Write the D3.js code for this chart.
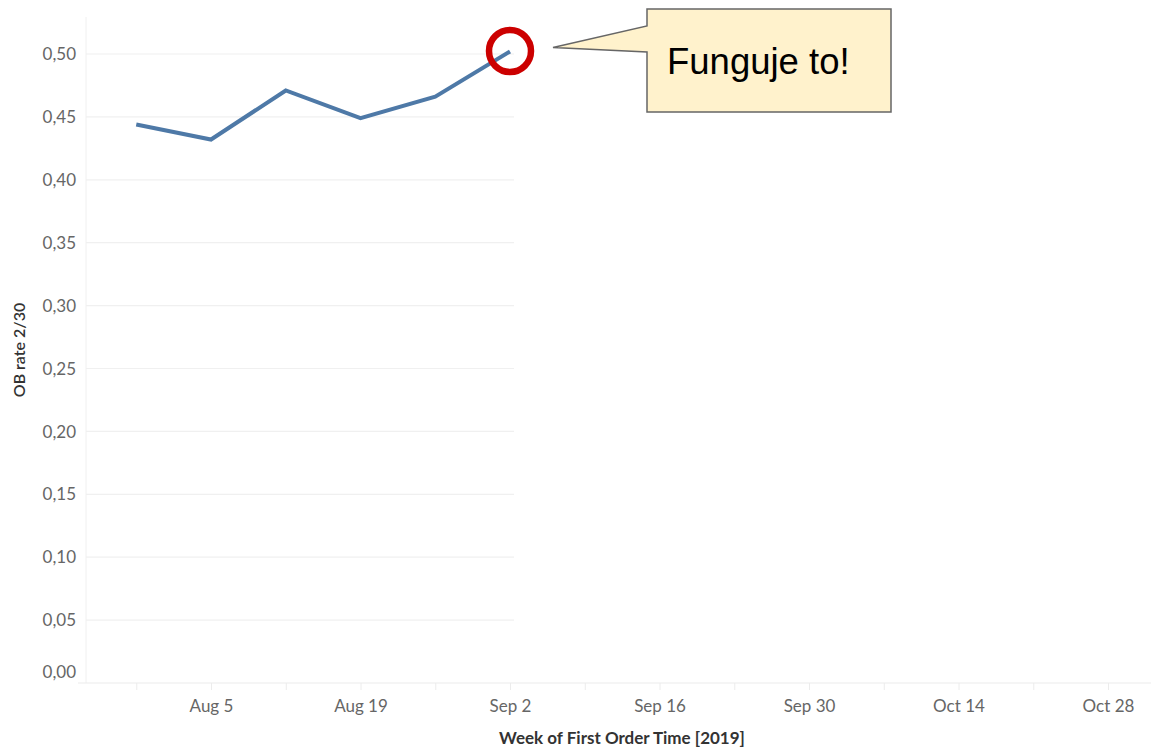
<!DOCTYPE html>
<html>
<head>
<meta charset="utf-8">
<script src="https://cdn.jsdelivr.net/npm/d3@7"></script>
<style>
  html, body { margin: 0; padding: 0; background: #fff; }
  svg { display: block; }
</style>
</head>
<body>
<svg id="chart" width="1151" height="748"></svg>
<script>
// Weekly onboarding rate (orders within 2/30)
const weeks = ["2019-07-29", "2019-08-05", "2019-08-12", "2019-08-19", "2019-08-26", "2019-09-02"];
const obRate = [0.444, 0.432, 0.471, 0.449, 0.466, 0.502];

const yTicks = [0, 0.05, 0.10, 0.15, 0.20, 0.25, 0.30, 0.35, 0.40, 0.45, 0.50];
const xLabelWeeks = ["2019-08-05", "2019-08-19", "2019-09-02", "2019-09-16", "2019-09-30", "2019-10-14", "2019-10-28"];
const xMinorWeeks = ["2019-07-29", "2019-08-05", "2019-08-12", "2019-08-19", "2019-08-26", "2019-09-02",
  "2019-09-09", "2019-09-16", "2019-09-23", "2019-09-30", "2019-10-07", "2019-10-14", "2019-10-21", "2019-10-28"];

const yTitle = "OB rate 2/30";
const xTitle = "Week of First Order Time [2019]";
const calloutText = "Funguje to!";

const parse = d3.utcParse("%Y-%m-%d");
const fmt = d3.utcFormat("%b %-d");
const data = weeks.map((w, i) => ({ date: parse(w), value: obRate[i] }));

const svg = d3.select("#chart");
const font = "Lato, 'Open Sans', sans-serif";

const plot = { left: 86, right: 1151, top: 17, bottom: 683 };

const x = d3.scaleUtc()
  .domain([parse("2019-08-05"), parse("2019-10-28")])
  .range([211, 1108]);
const y = d3.scaleLinear().domain([0, 0.5]).range([683, 54]);

const lastDate = data[data.length - 1].date;
const gridEnd = x(lastDate) + 4;

// horizontal gridlines (only across the weeks with data)
svg.append("g")
  .selectAll("line")
  .data(yTicks.filter(d => d > 0))
  .join("line")
  .attr("x1", plot.left).attr("x2", gridEnd)
  .attr("y1", d => y(d)).attr("y2", d => y(d))
  .attr("stroke", "#f0f0f0").attr("stroke-width", 1.2);

// left border of the pane
svg.append("line")
  .attr("x1", plot.left).attr("x2", plot.left)
  .attr("y1", plot.top).attr("y2", plot.bottom)
  .attr("stroke", "#f0f0f0").attr("stroke-width", 1);

// y tick labels
const fmtY = v => d3.format(".2f")(v).replace(".", ",");
svg.append("g")
  .selectAll("text")
  .data(yTicks)
  .join("text")
  .attr("x", 76)
  .attr("y", d => d === 0 ? y(d) - 11 : y(d))
  .attr("dy", "0.36em")
  .attr("text-anchor", "end")
  .attr("font-family", font).attr("font-size", 17)
  .attr("fill", "#666")
  .text(fmtY);

// x axis: weekly ticks, labels every second week
const xAxis = d3.axisBottom(x)
  .tickValues(xMinorWeeks.map(parse))
  .tickSize(7)
  .tickPadding(10)
  .tickFormat(d => xLabelWeeks.includes(d3.utcFormat("%Y-%m-%d")(d)) ? fmt(d) : "");

const gx = svg.append("g")
  .attr("transform", `translate(0,${plot.bottom})`)
  .call(xAxis);
gx.select(".domain").remove();
gx.selectAll(".tick line").attr("stroke", "#ececec");
gx.selectAll(".tick text")
  .attr("font-family", font).attr("font-size", 17)
  .attr("fill", "#666");

svg.append("line")
  .attr("x1", 78).attr("x2", plot.right)
  .attr("y1", plot.bottom).attr("y2", plot.bottom)
  .attr("stroke", "#ececec").attr("stroke-width", 1.2);

// axis titles
svg.append("text")
  .attr("x", 622).attr("y", 744)
  .attr("text-anchor", "middle")
  .attr("font-family", font).attr("font-size", 17).attr("font-weight", "bold")
  .attr("fill", "#333")
  .text(xTitle);

svg.append("text")
  .attr("transform", "translate(25,350) rotate(-90)")
  .attr("text-anchor", "middle")
  .attr("font-family", font).attr("font-size", 16).attr("font-weight", 600)
  .attr("fill", "#333")
  .text(yTitle);

// the rate line
const line = d3.line().x(d => x(d.date)).y(d => y(d.value));
svg.append("path")
  .datum(data)
  .attr("d", line)
  .attr("fill", "none")
  .attr("stroke", "#4e79a7")
  .attr("stroke-width", 4)
  .attr("stroke-linejoin", "miter");

// highlight the latest week
const last = data[data.length - 1];
svg.append("circle")
  .attr("cx", x(last.date)).attr("cy", y(last.value) - 0.5)
  .attr("r", 21)
  .attr("fill", "none")
  .attr("stroke", "#cc0000")
  .attr("stroke-width", 6.5);

// speech-bubble callout
const box = { x: 647, y: 9, w: 244, h: 103 };
const tip = [x(last.date) + 43, y(last.value) - 4];
const bubble = d3.path();
bubble.moveTo(box.x, box.y);
bubble.lineTo(box.x + box.w, box.y);
bubble.lineTo(box.x + box.w, box.y + box.h);
bubble.lineTo(box.x, box.y + box.h);
bubble.lineTo(box.x, 52);
bubble.lineTo(tip[0], tip[1]);
bubble.lineTo(box.x, 26);
bubble.closePath();

svg.append("path")
  .attr("d", bubble.toString())
  .attr("fill", "#fff2cc")
  .attr("stroke", "#666")
  .attr("stroke-width", 1.5)
  .attr("stroke-linejoin", "miter");

svg.append("text")
  .attr("x", 667).attr("y", 74)
  .attr("font-family", "Arial, 'Liberation Sans', sans-serif")
  .attr("font-size", 36.5)
  .attr("fill", "#000")
  .text(calloutText);
</script>
</body>
</html>
